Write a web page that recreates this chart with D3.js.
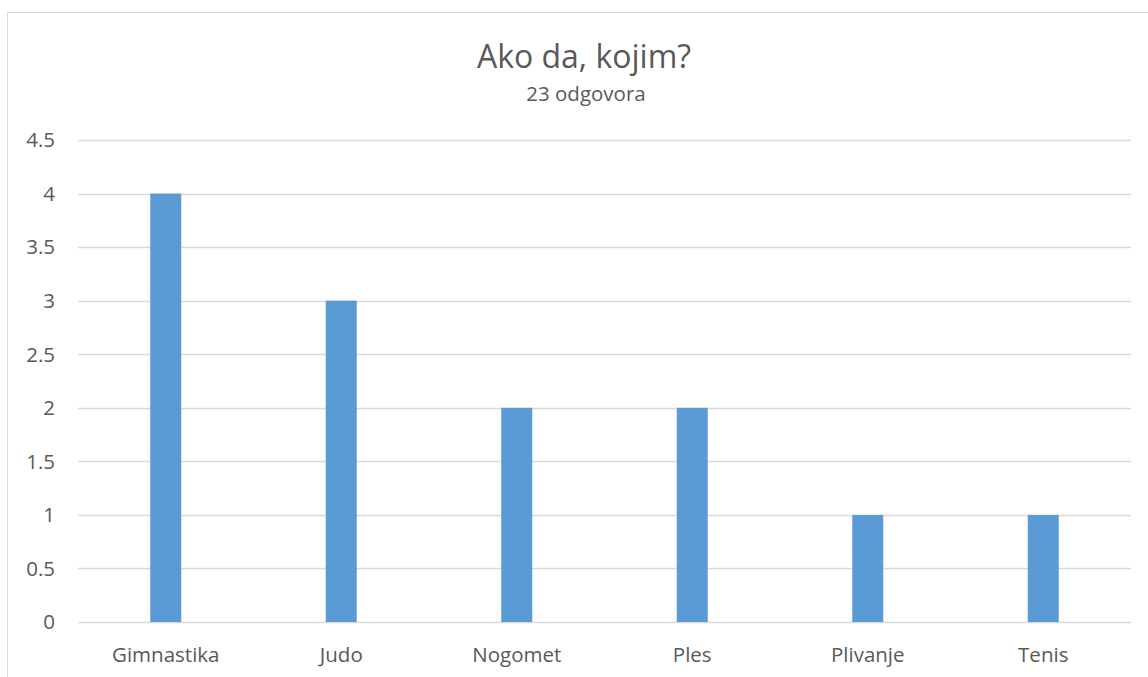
<!DOCTYPE html>
<html><head><meta charset="utf-8">
<script src="https://cdn.jsdelivr.net/npm/d3@7"></script>
<style>body{margin:0;background:#fff}svg{display:block}</style>
</head><body>
<svg id="c" width="1148" height="677"></svg>
<script>
const categories = ["Gimnastika","Judo","Nogomet","Ples","Plivanje","Tenis"];
const values = [4,3,2,2,1,1];
const yTicks = [0,0.5,1,1.5,2,2.5,3,3.5,4,4.5];
const title = "Ako da, kojim?";
const subtitle = "23 odgovora";

(function(){
const svg = d3.select("#c");
const font = "'Open Sans', 'Noto Sans', sans-serif";
const pLeft = 78, pRight = 1131, pTop = 140, pBottom = 622;

// chart border
svg.append("path").attr("d","M7.5,677 V12.5 H1148").attr("fill","none").attr("stroke","#d9d9d9").attr("stroke-width",1);

const x = d3.scaleBand().domain(categories).range([pLeft,pRight]).paddingInner(0).paddingOuter(0);
const y = d3.scaleLinear().domain([0,4.5]).range([pBottom,pTop]);

// gridlines
svg.append("g").selectAll("line").data(yTicks).join("line")
  .attr("x1",pLeft).attr("x2",pRight)
  .attr("y1",d=>Math.round(y(d))+0.5).attr("y2",d=>Math.round(y(d))+0.5)
  .attr("stroke","#d9d9d9").attr("stroke-width",1.3);

// y labels
svg.append("g").selectAll("text").data(yTicks).join("text")
  .attr("x",55).attr("y",d=>y(d)).attr("dy","0.36em")
  .attr("text-anchor","end").attr("font-family",font).attr("font-size",20.5).attr("fill","#595959")
  .text(d=>d);

// bars
const bw = 31;
svg.append("g").selectAll("rect").data(categories).join("rect")
  .attr("x",(d)=>x(d)+x.bandwidth()/2-bw/2)
  .attr("y",(d,i)=>y(values[i]))
  .attr("width",bw)
  .attr("height",(d,i)=>y(0)-y(values[i]))
  .attr("fill","#5b9bd5");

// x labels
svg.append("g").selectAll("text").data(categories).join("text")
  .attr("x",d=>x(d)+x.bandwidth()/2).attr("y",662)
  .attr("text-anchor","middle").attr("font-family",font).attr("font-size",20.5).attr("fill","#595959")
  .text(d=>d);

svg.append("text").attr("x",584).attr("y",68).attr("text-anchor","middle")
  .attr("font-family",font).attr("font-size",32).attr("fill","#595959").text(title);
svg.append("text").attr("x",586).attr("y",101).attr("text-anchor","middle")
  .attr("font-family",font).attr("font-size",20.5).attr("fill","#595959").text(subtitle);
})();
</script>
</body></html>
